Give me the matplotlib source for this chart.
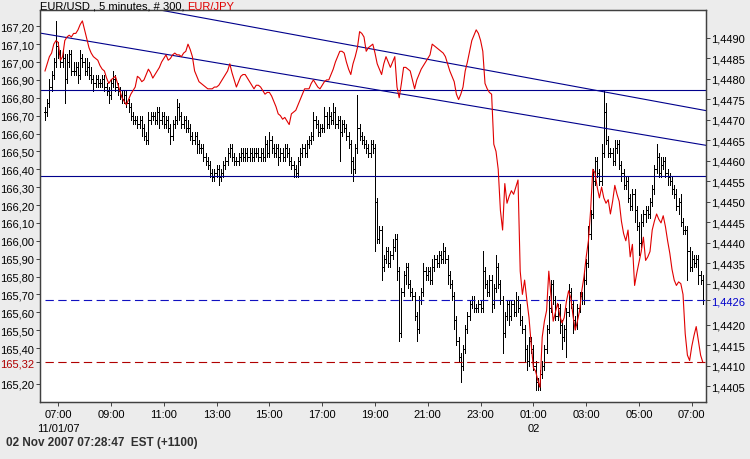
import numpy as np
import pandas as pd
import matplotlib
matplotlib.use("Agg")
import matplotlib.pyplot as plt
import matplotlib.dates as mdates
from matplotlib.collections import LineCollection

plt.rcParams['font.family'] = ['Liberation Sans', 'DejaVu Sans']

# ---------------- data ----------------
start_time = "2007-11-01 06:30"
bar_minutes = 5

# EUR/USD closes, in pips above 1.4400
usd_close_pips = [
    72, 74, 78, 81, 84, 88, 86, 84, 85, 80, 84, 86, 82, 82, 83, 81, 85, 84, 82, 83, 81, 80, 79, 80, 79,
    79, 80, 78, 77, 76, 79, 80, 78, 77, 76, 75, 76, 74, 73, 71, 70, 70, 69, 70, 68, 66, 65, 70, 71,
    71, 70, 72, 70, 71, 69, 70, 68, 66, 69, 70, 73, 71, 69, 70, 68, 68, 66, 65, 66, 64, 63, 63, 61, 60,
    59, 57, 56, 57, 58, 56, 57, 59, 60, 62, 63, 61, 60, 60, 61, 62, 61, 62, 61, 62, 61, 62, 62, 61, 62, 61,
    64, 62, 65, 63, 62, 63, 61, 62, 61, 63, 62, 60, 59, 58, 57, 60, 62, 63, 62, 64, 65, 66, 70, 69, 67,
    68, 68, 71, 69, 71, 70, 72, 69, 70, 67, 69, 68, 66, 64, 60, 58, 63, 68, 66, 65, 64, 63, 62, 64, 63,
    50, 41, 43, 34, 36, 38, 35, 37, 39, 41, 33, 18, 28, 32, 34, 30, 28, 27, 22, 19, 26, 28, 33, 32, 33,
    31, 34, 36, 35, 37, 36, 38, 36, 32, 30, 27, 21, 16, 12, 10, 14, 19, 22, 25, 26, 24, 24, 25, 24, 33,
    30, 28, 31, 25, 29, 34, 30, 26, 18, 22, 25, 22, 25, 23, 26, 24, 21, 19, 14, 11, 16, 14, 10, 6, 5,
    8, 10, 14, 19, 24, 30, 26, 22, 24, 20, 17, 19, 23, 28, 25, 21, 20, 24, 27, 26, 31, 35, 42, 47, 55,
    60, 57, 55, 62, 72, 65, 62, 62, 60, 63, 64, 59, 57, 54, 55, 51, 49, 52, 48, 44, 40, 45, 47, 48, 47,
    50, 53, 58, 61, 57, 59, 60, 57, 56, 55, 53, 52, 49, 50, 45, 43, 43, 38, 34, 36, 35, 36, 32, 31, 26,
]
# upper wick above the bar body (pips)
usd_hi_ext = [
    1, 1, 2, 1, 1, 6, 1, 1, 2, 1, 2, 1, 1, 2, 1, 1, 2, 1, 1, 2, 1, 2, 1, 1, 1,
    1, 1, 1, 1, 1, 1, 2, 1, 1, 1, 1, 1, 1, 1, 1, 1, 1, 1, 1, 1, 1, 1, 2, 1, 1,
    1, 1, 1, 1, 1, 1, 1, 1, 1, 1, 2, 1, 1, 1, 1, 2, 1, 1, 1, 1, 1, 1, 1, 1, 1,
    1, 1, 1, 1, 1, 1, 1, 1, 1, 1, 1, 1, 1, 1, 1, 1, 1, 1, 1, 1, 1, 1, 1, 1, 1,
    2, 1, 2, 1, 1, 1, 1, 1, 1, 1, 1, 1, 1, 1, 1, 1, 1, 1, 1, 1, 1, 1, 2, 1, 1,
    1, 1, 2, 1, 2, 1, 2, 1, 1, 1, 1, 1, 1, 1, 1, 1, 1, 8, 1, 1, 1, 1, 1, 1, 1,
    1, 1, 1, 1, 1, 1, 1, 1, 2, 1, 1, 1, 1, 1, 1, 1, 1, 1, 1, 1, 1, 1, 2, 1, 1,
    1, 2, 1, 1, 1, 1, 2, 1, 1, 1, 1, 1, 1, 1, 1, 1, 1, 1, 1, 1, 1, 1, 1, 1, 5,
    1, 1, 1, 1, 1, 3, 1, 1, 1, 1, 1, 1, 1, 1, 2, 1, 1, 1, 1, 1, 1, 1, 1, 1, 1,
    1, 1, 1, 1, 3, 1, 1, 1, 1, 1, 1, 1, 1, 2, 1, 1, 1, 1, 1, 1, 2, 1, 2, 1, 3,
    1, 1, 1, 2, 5, 2, 1, 1, 1, 2, 1, 1, 1, 1, 1, 1, 1, 1, 1, 1, 1, 2, 1, 1, 1,
    1, 1, 1, 3, 1, 2, 1, 1, 1, 1, 1, 1, 1, 1, 2, 1, 1, 1, 1, 2, 1, 1, 1, 1, 1,
]
# lower wick below the bar body (pips)
usd_lo_ext = [
    2, 1, 1, 1, 1, 1, 1, 1, 1, 6, 1, 1, 1, 1, 1, 2, 1, 1, 1, 1, 1, 1, 2, 1, 1,
    1, 1, 1, 1, 2, 1, 1, 1, 1, 1, 1, 1, 1, 1, 1, 1, 1, 1, 1, 2, 1, 1, 1, 1, 1,
    1, 1, 2, 1, 1, 1, 1, 2, 1, 1, 1, 1, 1, 1, 1, 1, 1, 1, 1, 2, 1, 1, 1, 1, 1,
    1, 1, 1, 1, 2, 1, 1, 1, 1, 1, 1, 1, 1, 1, 1, 1, 1, 1, 1, 1, 1, 1, 1, 1, 1,
    1, 1, 1, 1, 1, 1, 2, 1, 1, 1, 1, 1, 1, 2, 1, 1, 1, 1, 1, 1, 1, 1, 1, 1, 1,
    1, 1, 1, 1, 1, 1, 1, 1, 1, 7, 1, 1, 1, 1, 3, 3, 1, 1, 1, 1, 1, 1, 1, 1, 1,
    12, 1, 1, 3, 1, 1, 1, 1, 1, 1, 2, 2, 1, 1, 2, 1, 1, 1, 1, 3, 1, 1, 1, 1, 1,
    1, 1, 1, 1, 1, 1, 1, 1, 2, 1, 1, 2, 1, 1, 4, 1, 1, 1, 1, 1, 1, 1, 1, 1, 1,
    1, 1, 1, 2, 1, 1, 1, 1, 5, 1, 1, 2, 1, 1, 1, 1, 1, 1, 3, 2, 1, 1, 1, 2, 1,
    1, 1, 1, 1, 1, 1, 1, 1, 1, 2, 3, 1, 7, 1, 1, 3, 1, 1, 1, 1, 1, 1, 1, 1, 1,
    1, 1, 1, 1, 1, 1, 1, 1, 1, 1, 1, 1, 2, 1, 1, 1, 1, 1, 3, 1, 3, 1, 1, 2, 1,
    1, 1, 1, 1, 1, 1, 1, 1, 2, 1, 1, 1, 1, 2, 1, 1, 1, 7, 1, 1, 1, 1, 2, 1, 1,
]
# EUR/JPY closes, hundredths of a yen above 165.00
jpy_close_cents = [
    195, 199, 203, 205, 210, 212, 211, 201, 203, 212, 214, 215, 214, 216, 216, 218, 221, 223, 218, 213, 208, 205, 203, 202, 201,
    198, 196, 195, 191, 188, 190, 191, 192, 188, 184, 180, 178, 176, 179, 182, 184, 186, 192, 191, 189, 190, 193, 196, 194, 191,
    193, 195, 197, 200, 202, 204, 201, 202, 204, 205, 204, 204, 203, 205, 206, 210, 207, 203, 195, 192, 189, 188, 187, 186, 185,
    185, 185, 186, 186, 187, 189, 191, 193, 195, 199, 194, 190, 186, 189, 192, 193, 193, 191, 189, 187, 185, 187, 187, 186, 184,
    182, 183, 183, 181, 178, 175, 171, 170, 168, 169, 167, 165, 171, 172, 173, 176, 179, 182, 185, 185, 185, 188, 190, 188, 186,
    185, 187, 189, 190, 190, 193, 196, 200, 203, 206, 206, 205, 200, 196, 193, 199, 203, 208, 217, 216, 214, 206, 208, 209, 210,
    205, 199, 196, 193, 199, 203, 200, 197, 200, 203, 186, 180, 188, 197, 197, 196, 195, 190, 185, 190, 193, 196, 198, 200, 202,
    204, 210, 209, 208, 207, 206, 205, 203, 199, 195, 192, 189, 182, 179, 182, 186, 195, 200, 206, 212, 215, 218, 216, 212, 206,
    188, 185, 183, 182, 154, 150, 140, 117, 106, 132, 121, 125, 128, 126, 130, 134, 83, 70, 78, 67, 57, 42, 29, 27, 22,
    18, 46, 55, 61, 83, 69, 55, 60, 65, 58, 54, 57, 66, 72, 68, 58, 50, 55, 61, 72, 80, 91, 100, 117, 140,
    138, 130, 124, 130, 124, 121, 123, 115, 122, 131, 126, 122, 111, 104, 100, 106, 91, 98, 75, 82, 88, 94, 102, 89, 91,
    94, 106, 111, 115, 112, 110, 114, 108, 100, 93, 84, 78, 75, 77, 76, 70, 48, 36, 33, 41, 47, 52, 44, 36, 32,
]

usd_last = 1.4426
jpy_last = 165.32
usd_levels = [1.44773, 1.44563]
trend_upper = [("2007-11-01 18:26", 1.44878), ("2007-11-02 04:17", 1.44761)]
trend_lower = [("2007-11-01 18:26", 1.44780), ("2007-11-02 04:17", 1.44673)]

jpy_ticks = [165.20, 165.32, 165.40, 165.50, 165.60, 165.70, 165.80, 165.90, 166.00, 166.10,
             166.20, 166.30, 166.40, 166.50, 166.60, 166.70, 166.80, 166.90, 167.00, 167.10, 167.20]
usd_ticks = [1.4405, 1.4410, 1.4415, 1.4420, 1.4426, 1.4430, 1.4435, 1.4440, 1.4445, 1.4450,
             1.4455, 1.4460, 1.4465, 1.4470, 1.4475, 1.4480, 1.4485, 1.4490]
time_tick_start = "2007-11-01 07:00"
time_tick_labels = ["07:00\n11/01/07", "09:00", "11:00", "13:00", "15:00", "17:00", "19:00",
                    "21:00", "23:00", "01:00\n02", "03:00", "05:00", "07:00"]

title_black = "EUR/USD , 5 minutes, # 300, "
title_red = "EUR/JPY"
footer = "02 Nov 2007 07:28:47  EST (+1100)"

assert len(usd_close_pips) == len(usd_hi_ext) == len(usd_lo_ext) == len(jpy_close_cents) == 300

# ---------------- derived ----------------
n = len(usd_close_pips)
times = pd.date_range(start_time, periods=n, freq=f"{bar_minutes}min")
xs = mdates.date2num(times.to_pydatetime())
dx = bar_minutes / 1440.0

close = 1.44 + np.array(usd_close_pips) / 1e4
opn = np.r_[close[0], close[:-1]]
high = np.maximum(opn, close) + np.array(usd_hi_ext) / 1e4
low = np.minimum(opn, close) - np.array(usd_lo_ext) / 1e4
jpy = 165.0 + np.array(jpy_close_cents) / 100.0

# ---------------- figure ----------------
W, H = 750, 460
fig = plt.figure(figsize=(W / 100, H / 100), dpi=100, facecolor="#ececec")
L, R, T, B = 40, 706, 11, 403
ax_usd = fig.add_axes([L / W, 1 - B / H, (R - L) / W, (B - T) / H])
ax_usd.set_facecolor("white")
ax_jpy = ax_usd.twinx()
ax_jpy.yaxis.tick_left()
ax_usd.yaxis.tick_right()

frame_col = "#404040"
for a in (ax_usd, ax_jpy):
    for s in a.spines.values():
        s.set_color(frame_col)
        s.set_linewidth(0.9)

blue = "#00008c"
# OHLC bars
w = 0.5 * dx
segs = []
for x, o, h, l, c in zip(xs, opn, high, low, close):
    segs.append([(x, l), (x, h)])
    segs.append([(x - w, o), (x, o)])
    segs.append([(x, c), (x + w, c)])
ax_usd.add_collection(LineCollection(segs, colors="black", linewidths=0.6, antialiaseds=False))

x_left = xs[0] - 2.27 * dx
x_right = xs[-1] + 1.45 * dx

for lev in usd_levels:
    ax_usd.axhline(lev, color=blue, lw=0.8)
for (t1, p1), (t2, p2) in (trend_upper, trend_lower):
    ax_usd.axline((mdates.date2num(pd.Timestamp(t1)), p1), (mdates.date2num(pd.Timestamp(t2)), p2),
                  color=blue, lw=0.8)
ax_usd.hlines(usd_last, xs[0], x_right, colors="#1010c0", linestyles=(0, (7.5, 4)), lw=0.8)

ax_jpy.plot(xs, jpy, color="#e00000", lw=0.8)
ax_jpy.hlines(jpy_last, xs[0], x_right, colors="#b00000", linestyles=(0, (7.5, 4)), lw=0.8)

# limits
ax_usd.set_xlim(x_left, x_right)
ax_usd.set_ylim(1.44011, 1.44968)
ax_jpy.set_ylim(165.098, 167.291)

# ticks
fs = 8
ax_usd.set_yticks(usd_ticks)
ax_usd.set_yticklabels([f"{v:.4f}".replace(".", ",") for v in usd_ticks])
ax_jpy.set_yticks(jpy_ticks)
ax_jpy.set_yticklabels([f"{v:.2f}".replace(".", ",") for v in jpy_ticks])
for a in (ax_usd, ax_jpy):
    a.tick_params(axis="y", direction="out", length=3, width=0.7, pad=1, labelsize=fs,
                  color=frame_col)
ax_usd.tick_params(axis="y", left=False, labelleft=False)
ax_jpy.tick_params(axis="y", right=False, labelright=False)
for lbl in ax_usd.get_yticklabels():
    if lbl.get_text() == "1,4426":
        lbl.set_color("#0000cc")
for lbl in ax_jpy.get_yticklabels():
    if lbl.get_text() == "165,32":
        lbl.set_color("#b00000")

tick_times = pd.date_range(time_tick_start, periods=len(time_tick_labels), freq="2h")
ax_usd.set_xticks(mdates.date2num(tick_times.to_pydatetime()))
ax_usd.set_xticklabels(time_tick_labels, linespacing=1.45)
ax_usd.tick_params(axis="x", direction="out", length=3, width=0.7, pad=2, labelsize=fs,
                   color=frame_col)

# title & footer
y_title = 1 - 9.5 / H
t1 = fig.text(L / W, y_title, title_black, fontsize=fs, color="black", va="baseline", ha="left")
fig.canvas.draw()
bb = t1.get_window_extent(renderer=fig.canvas.get_renderer())
fig.text(bb.x1 / W, y_title, title_red, fontsize=fs, color="#e00000", va="baseline", ha="left")
fig.text(6 / W, 1 - 446 / H, footer, fontsize=8.5, fontweight="bold", color="#303030",
         va="baseline", ha="left")

fig.savefig("out.png", dpi=100, facecolor=fig.get_facecolor())
